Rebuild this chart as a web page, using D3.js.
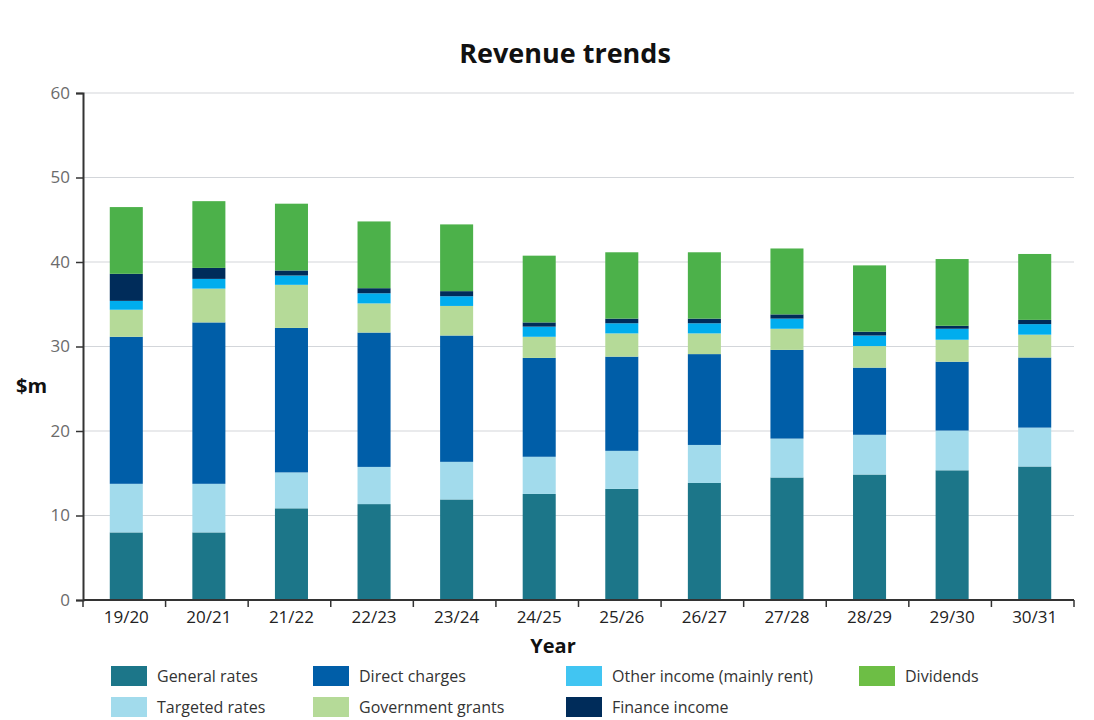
<!DOCTYPE html>
<html>
<head>
<meta charset="utf-8">
<script src="https://cdn.jsdelivr.net/npm/d3@7"></script>
<style>
  body { margin: 0; background: #fff; }
  text { font-family: "Open Sans", "Noto Sans", sans-serif; }
</style>
</head>
<body>
<div id="viz"></div>
<script>
// data ($m)
const years = ["19/20","20/21","21/22","22/23","23/24","24/25","25/26","26/27","27/28","28/29","29/30","30/31"];
const generalRates    = [8.0, 8.0, 10.85, 11.35, 11.9, 12.55, 13.15, 13.85, 14.5, 14.85, 15.35, 15.8];
const targetedRates   = [5.75, 5.75, 4.25, 4.4, 4.45, 4.4, 4.5, 4.5, 4.6, 4.7, 4.7, 4.6];
const directCharges   = [17.4, 19.1, 17.1, 15.9, 14.95, 11.7, 11.15, 10.75, 10.5, 7.95, 8.15, 8.3];
const governmentGrants= [3.2, 4.0, 5.1, 3.45, 3.5, 2.5, 2.75, 2.45, 2.5, 2.55, 2.6, 2.7];
const otherIncome     = [1.05, 1.15, 1.1, 1.2, 1.15, 1.2, 1.2, 1.2, 1.2, 1.25, 1.3, 1.25];
const financeIncome   = [3.2, 1.3, 0.6, 0.6, 0.6, 0.5, 0.55, 0.55, 0.5, 0.45, 0.35, 0.5];
const dividends       = [7.9, 7.9, 7.9, 7.9, 7.9, 7.9, 7.85, 7.85, 7.8, 7.85, 7.9, 7.8];
const yTicks = [0, 10, 20, 30, 40, 50, 60];

const seriesNames = ["General rates","Targeted rates","Direct charges","Government grants","Other income (mainly rent)","Finance income","Dividends"];
const seriesValues = [generalRates, targetedRates, directCharges, governmentGrants, otherIncome, financeIncome, dividends];
const seriesColors = ["#1c7689","#a2dbec","#005ea8","#b5da98","#00adee","#002c5a","#4cb14a"];
const legendColors = ["#1c7689","#a2dbec","#005ea8","#b5da98","#41c5f2","#002c5a","#6dbe45"];

// build table for stack
const table = years.map(function(y, i) {
  const row = {year: y};
  seriesNames.forEach(function(s, j) { row[s] = seriesValues[j][i]; });
  return row;
});

const width = 1094, height = 720;
const margin = {left: 83, top: 93, right: 20, bottom: 120};
const plotRight = 1074;
const g_height = height - margin.top - margin.bottom; // 507

const svg = d3.select("#viz").append("svg")
  .attr("width", width).attr("height", height);

const x = d3.scaleBand().domain(years).range([margin.left, plotRight]).paddingInner(0.6).paddingOuter(0.3);
const y = d3.scaleLinear().domain([0, 60]).range([margin.top + g_height, margin.top]);

// gridlines
svg.append("g").selectAll("line")
  .data(yTicks.slice(1))
  .enter().append("line")
  .attr("x1", margin.left).attr("x2", plotRight)
  .attr("y1", function(d) { return y(d); })
  .attr("y2", function(d) { return y(d); })
  .style("stroke", "#d3d6da").style("stroke-width", 1.2);

// stacked bars
const stack = d3.stack().keys(seriesNames)(table);
svg.append("g").selectAll("g")
  .data(stack)
  .enter().append("g")
  .attr("fill", function(d, i) { return seriesColors[i]; })
  .selectAll("rect")
  .data(function(d) { return d; })
  .enter().append("rect")
  .attr("x", function(d) { return x(d.data.year) + 2; })
  .attr("y", function(d) { return y(d[1]); })
  .attr("width", x.bandwidth())
  .attr("height", function(d) { return y(d[0]) - y(d[1]); });

// y axis
const yAxis = svg.append("g")
  .attr("transform", "translate(" + margin.left + ",0)")
  .call(d3.axisLeft(y).tickValues(yTicks).tickSize(7).tickPadding(6));
yAxis.select(".domain").style("stroke", "#333").style("stroke-width", 2);
yAxis.selectAll(".tick line").style("stroke", "#333").style("stroke-width", 1.5);
yAxis.selectAll("text").style("font-size", "17px").style("fill", "#6b6b6b");

// x axis (ticks at band boundaries)
const xAxis = svg.append("g")
  .attr("transform", "translate(0," + y(0) + ")")
  .call(d3.axisBottom(x).tickSize(0).tickPadding(11));
xAxis.select(".domain").remove();
xAxis.selectAll("text").attr("dx", 2).style("font-size", "17px").style("fill", "#222");
xAxis.append("line")
  .attr("x1", margin.left).attr("x2", plotRight)
  .style("stroke", "#333").style("stroke-width", 2);
const step = (plotRight - margin.left) / years.length;
xAxis.selectAll(".bound")
  .data(d3.range(years.length + 1))
  .enter().append("line")
  .attr("class", "bound")
  .attr("x1", function(d) { return margin.left + d * step; })
  .attr("x2", function(d) { return margin.left + d * step; })
  .attr("y1", 0).attr("y2", 7)
  .style("stroke", "#333").style("stroke-width", 1.5);

// title
svg.append("text")
  .attr("x", 565).attr("y", 63)
  .attr("text-anchor", "middle")
  .style("font-size", "27px").style("font-weight", "bold").style("fill", "#111")
  .text("Revenue trends");

// axis labels
svg.append("text")
  .attr("x", 16).attr("y", 393)
  .style("font-size", "20px").style("font-weight", "bold").style("fill", "#111")
  .text("$m");
svg.append("text")
  .attr("x", 553).attr("y", 653)
  .attr("text-anchor", "middle")
  .style("font-size", "20px").style("font-weight", "bold").style("fill", "#111")
  .text("Year");

// legend
const legendPos = [
  [111, 666], [111, 697], [313, 666], [313, 697], [566, 666], [566, 697], [859, 666]
];
const legend = svg.append("g").selectAll("g")
  .data(seriesNames)
  .enter().append("g")
  .attr("transform", function(d, i) { return "translate(" + legendPos[i][0] + "," + legendPos[i][1] + ")"; });
legend.append("rect")
  .attr("width", 36).attr("height", 20)
  .attr("fill", function(d, i) { return legendColors[i]; });
legend.append("text")
  .attr("x", 46).attr("y", 16)
  .style("font-size", "16px").style("fill", "#333")
  .text(function(d) { return d; });
</script>
</body>
</html>
